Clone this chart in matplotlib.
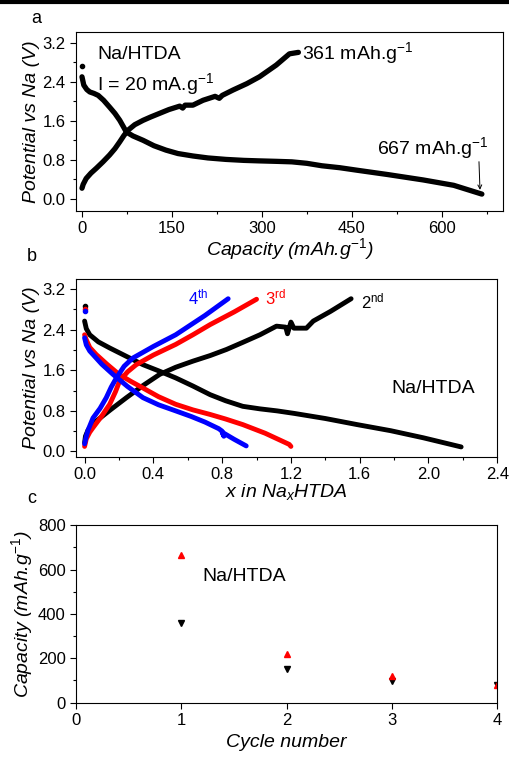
import numpy as np
import matplotlib.pyplot as plt
from matplotlib.ticker import AutoMinorLocator

plt.rcParams['font.family'] = ['Liberation Sans', 'DejaVu Sans']
plt.rcParams['mathtext.fontset'] = 'custom'
plt.rcParams['mathtext.rm'] = 'Liberation Sans'
plt.rcParams['mathtext.it'] = 'Liberation Sans:italic'
plt.rcParams['axes.linewidth'] = 0.8

# (a) first cycle, capacity in mAh/g vs potential
dis1_cap = [0, 3, 8, 13, 20, 27, 36, 46, 55, 63, 69, 74, 85, 102, 120, 140, 160, 185, 210, 240, 270, 295,
            325, 350, 375, 400, 430, 458, 510, 569, 620, 667]
dis1_v = [2.50, 2.33, 2.24, 2.19, 2.16, 2.12, 2.02, 1.88, 1.75, 1.61, 1.48, 1.37, 1.29, 1.20, 1.09, 1.00,
          0.93, 0.88, 0.84, 0.81, 0.79, 0.78, 0.77, 0.76, 0.73, 0.68, 0.64, 0.59, 0.50, 0.39, 0.28, 0.10]
chg1_cap = [0, 2, 7, 15, 24, 35, 46, 55, 63, 70, 77, 88, 102, 115, 129, 145, 163, 168, 172, 185, 202,
            222, 229, 234, 252, 275, 296, 324, 346, 361]
chg1_v = [0.22, 0.30, 0.42, 0.53, 0.63, 0.76, 0.90, 1.03, 1.17, 1.30, 1.41, 1.52, 1.61, 1.68, 1.75, 1.83,
          1.90, 1.86, 1.92, 1.92, 2.02, 2.10, 2.06, 2.12, 2.23, 2.36, 2.50, 2.74, 2.97, 3.00]
ocv1 = 2.72

# (b) cycles 2-4, x in NaxHTDA vs potential
dis2_x = [0, 0.01, 0.03, 0.08, 0.146, 0.24, 0.34, 0.43, 0.53, 0.63, 0.73, 0.82, 0.92, 1.02, 1.12, 1.22,
          1.4, 1.585, 1.78, 1.97, 2.19]
dis2_v = [2.57, 2.42, 2.30, 2.16, 2.04, 1.88, 1.71, 1.59, 1.45, 1.29, 1.12, 1.00, 0.89, 0.84, 0.80, 0.75,
          0.65, 0.53, 0.41, 0.27, 0.09]
chg2_x = [0, 0.005, 0.02, 0.04, 0.068, 0.15, 0.243, 0.34, 0.437, 0.53, 0.63, 0.73, 0.825, 0.92, 1.02,
          1.116, 1.17, 1.18, 1.2, 1.217, 1.29, 1.33, 1.43, 1.55]
chg2_v = [0.17, 0.30, 0.42, 0.52, 0.60, 0.82, 1.06, 1.30, 1.52, 1.66, 1.78, 1.89, 2.01, 2.15, 2.30,
          2.47, 2.45, 2.32, 2.55, 2.43, 2.43, 2.57, 2.76, 3.01]
dis3_x = [0, 0.01, 0.03, 0.068, 0.13, 0.20, 0.27, 0.34, 0.43, 0.53, 0.63, 0.73, 0.82, 0.92, 1.05, 1.19, 1.20]
dis3_v = [2.30, 2.20, 2.05, 1.91, 1.72, 1.52, 1.38, 1.25, 1.08, 0.93, 0.82, 0.73, 0.64, 0.53, 0.36, 0.14, 0.10]
chg3_x = [0, 0.01, 0.03, 0.049, 0.10, 0.146, 0.18, 0.204, 0.25, 0.30, 0.40, 0.53, 0.63, 0.73, 0.87, 1.0]
chg3_v = [0.10, 0.25, 0.38, 0.47, 0.70, 0.93, 1.18, 1.39, 1.57, 1.71, 1.90, 2.11, 2.30, 2.50, 2.75, 3.00]
dis4_x = [0, 0.01, 0.03, 0.049, 0.10, 0.165, 0.25, 0.34, 0.43, 0.53, 0.62, 0.70, 0.78, 0.80, 0.81, 0.80, 0.87, 0.94]
dis4_v = [2.24, 2.10, 1.98, 1.91, 1.72, 1.52, 1.28, 1.06, 0.92, 0.80, 0.69, 0.58, 0.45, 0.40, 0.30, 0.38, 0.24, 0.11]
chg4_x = [0, 0.01, 0.02, 0.049, 0.09, 0.126, 0.155, 0.185, 0.23, 0.28, 0.40, 0.53, 0.70, 0.835]
chg4_v = [0.15, 0.30, 0.42, 0.66, 0.85, 1.06, 1.27, 1.45, 1.68, 1.84, 2.07, 2.30, 2.68, 3.01]
ocv_b = [2.86, 2.80, 2.76]

# (c) capacity vs cycle
cycles = [1, 2, 3, 4]
cap_dis = [667, 220, 120, 80]
cap_chg = [361, 152, 97, 80]

fig = plt.figure(figsize=(5.1, 7.58), dpi=100)
fig.add_artist(plt.Line2D([0, 1], [0.998, 0.998], color='k', lw=3, transform=fig.transFigure))

ax1 = fig.add_axes([0.149, 0.722, 0.837, 0.236])
ax2 = fig.add_axes([0.149, 0.397, 0.826, 0.235])
ax3 = fig.add_axes([0.149, 0.073, 0.826, 0.234])

tick_fs = 12
lab_fs = 14
style = dict(solid_capstyle='round', solid_joinstyle='round')

for ax in (ax1, ax2, ax3):
    ax.tick_params(direction='out', labelsize=tick_fs, length=4, width=0.8, top=False, right=False)
    ax.tick_params(which='minor', direction='out', length=2.5, width=0.8)

ax1.plot(dis1_cap, dis1_v, color='k', lw=3.8, **style)
ax1.plot(chg1_cap, chg1_v, color='k', lw=3.8, **style)
ax1.plot([0], [ocv1], 'o', color='k', ms=3)
ax1.set_xlim(-10, 702)
ax1.set_ylim(-0.24, 3.42)
ax1.set_xticks([0, 150, 300, 450, 600])
ax1.set_yticks([0.0, 0.8, 1.6, 2.4, 3.2])
ax1.xaxis.set_minor_locator(AutoMinorLocator(2))
ax1.yaxis.set_minor_locator(AutoMinorLocator(2))
ax1.set_xlabel('Capacity (mAh.g$^{-1}$)', fontsize=lab_fs, style='italic', labelpad=0)
ax1.set_ylabel('Potential vs Na (V)', fontsize=lab_fs, style='italic', labelpad=2)
ax1.text(25, 2.95, 'Na/HTDA', fontsize=lab_fs, va='center')
ax1.text(25, 2.36, 'I = 20 mA.g$^{-1}$', fontsize=lab_fs, va='center')
ax1.text(367, 2.98, '361 mAh.g$^{-1}$', fontsize=lab_fs, va='center')
ax1.text(492, 1.05, '667 mAh.g$^{-1}$', fontsize=lab_fs, va='center')
ax1.annotate('', xy=(664, 0.13), xytext=(662, 0.82),
             arrowprops=dict(arrowstyle='->', color='k', lw=0.7, mutation_scale=7))

ax2.plot(dis2_x, dis2_v, color='k', lw=3.5, **style)
ax2.plot(chg2_x, chg2_v, color='k', lw=3.5, **style)
ax2.plot(dis3_x, dis3_v, color='#ff0000', lw=3.5, **style)
ax2.plot(chg3_x, chg3_v, color='#ff0000', lw=3.5, **style)
ax2.plot(dis4_x, dis4_v, color='#0000ff', lw=3.5, **style)
ax2.plot(chg4_x, chg4_v, color='#0000ff', lw=3.5, **style)
for v, c in zip(ocv_b, ['k', '#ff0000', '#0000ff']):
    ax2.plot([0], [v], 'o', color=c, ms=3)
ax2.set_xlim(-0.05, 2.4)
ax2.set_ylim(-0.11, 3.4)
ax2.set_xticks([0.0, 0.4, 0.8, 1.2, 1.6, 2.0, 2.4])
ax2.set_yticks([0.0, 0.8, 1.6, 2.4, 3.2])
ax2.xaxis.set_minor_locator(AutoMinorLocator(2))
ax2.yaxis.set_minor_locator(AutoMinorLocator(2))
ax2.set_xlabel(r'$\mathit{x\ in\ Na_{x}HTDA}$', fontsize=lab_fs, labelpad=0)
ax2.set_ylabel('Potential vs Na (V)', fontsize=lab_fs, style='italic', labelpad=2)
ax2.text(0.60, 3.03, '4$^{\\mathrm{th}}$', color='#0000ff', fontsize=12, va='center')
ax2.text(1.05, 3.03, '3$^{\\mathrm{rd}}$', color='#ff0000', fontsize=12, va='center')
ax2.text(1.61, 2.96, '2$^{\\mathrm{nd}}$', color='k', fontsize=12, va='center')
ax2.text(2.03, 1.25, 'Na/HTDA', fontsize=lab_fs, ha='center', va='center')

ax3.plot(cycles, cap_chg, 'v', color='k', ms=4)
ax3.plot(cycles, cap_dis, '^', color='#ff0000', ms=4)
ax3.set_xlim(0, 4)
ax3.set_ylim(0, 800)
ax3.set_xticks([0, 1, 2, 3, 4])
ax3.set_yticks([0, 200, 400, 600, 800])
ax3.yaxis.set_minor_locator(AutoMinorLocator(2))
ax3.set_xlabel('Cycle number', fontsize=lab_fs, style='italic', labelpad=4)
ax3.set_ylabel('Capacity (mAh.g$^{-1}$)', fontsize=lab_fs, style='italic', labelpad=2)
ax3.text(1.6, 570, 'Na/HTDA', fontsize=lab_fs, ha='center', va='center')

fig.text(0.072, 0.976, 'a', fontsize=13, ha='center', va='center')
fig.text(0.063, 0.661, 'b', fontsize=13, ha='center', va='center')
fig.text(0.063, 0.343, 'c', fontsize=13, ha='center', va='center')

fig.savefig('out.png', dpi=100)
